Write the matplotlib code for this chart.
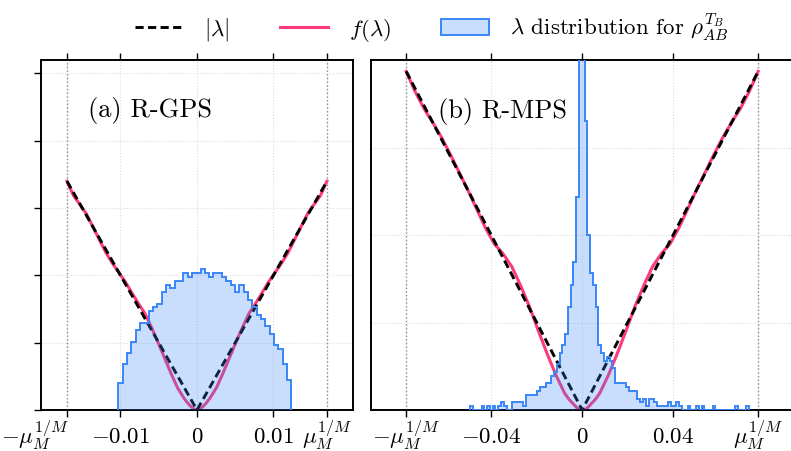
import numpy as np
import matplotlib
matplotlib.use("Agg")
import matplotlib.pyplot as plt
import matplotlib.transforms as mtransforms
from matplotlib.patches import Patch
from matplotlib.lines import Line2D

plt.rcParams.update({
    "font.family": "serif",
    "font.serif": ["cmr10", "DejaVu Serif"],
    "mathtext.fontset": "cm",
    "axes.formatter.use_mathtext": True,
    "font.size": 16.5,
})

# ---------------- data ----------------
# sample positions along lambda, as a fraction of mu_M^{1/M} (one side, mirrored)
frac_grid = [0, 0.025, 0.05, 0.075, 0.10, 0.15, 0.20, 0.25, 0.30, 0.35, 0.40,
             0.45, 0.50, 0.55, 0.60, 0.65, 0.70, 0.75, 0.80, 0.85, 0.90, 0.95, 1.0]

# (a) R-GPS
mu_gps = 0.0170
f_gps_half = [0, 0.00008, 0.00029, 0.00056, 0.00088, 0.00166, 0.00273, 0.00388,
              0.00503, 0.00614, 0.00717, 0.00791, 0.00869, 0.00950, 0.01020,
              0.01090, 0.01168, 0.01264, 0.01360, 0.01456, 0.01526, 0.01593, 0.0170]
hist_gps_range = (-0.01027, 0.01233)
hist_gps_counts = [7, 12, 15, 18, 21, 23, 23, 26, 27, 28, 31, 33, 32, 34, 34, 36,
                   35, 36, 36, 37, 36, 35, 36, 36, 35, 34, 33, 31, 33, 31, 29, 27,
                   25, 24, 22, 20, 17, 16, 12, 8]

# (b) R-MPS
mu_mps = 0.0775
f_mps_half = [0, 0.0003, 0.00136, 0.00245, 0.00386, 0.00808, 0.01298, 0.01823,
              0.02371, 0.02850, 0.03283, 0.03579, 0.03806, 0.04171, 0.04604,
              0.05038, 0.05448, 0.05858, 0.06246, 0.06588, 0.06906, 0.07294, 0.0775]
hist_mps_range = (-0.04921, 0.07339)
hist_mps_counts = [1, 0, 0, 0, 1, 0, 1, 0, 1, 0,
                   1, 2, 1, 0, 0, 2, 2, 2, 2, 1,
                   4, 4, 4, 4, 5, 6, 6, 7, 7, 9,
                   10, 12, 15, 17, 20, 27, 33, 39, 56, 104,
                   98, 76, 46, 36, 33, 27, 17, 15, 13, 14,
                   13, 11, 7, 7, 7, 7, 6, 5, 5, 5,
                   3, 2, 3, 1, 3, 3, 2, 1, 1, 1,
                   1, 2, 1, 1, 2, 1, 0, 0, 1, 0,
                   0, 1, 0, 1, 0, 0, 0, 1, 0, 0,
                   0, 0, 0, 0, 0, 1, 0, 0, 0, 1]

panels = [
    dict(mu=mu_gps, f_half=f_gps_half, hrange=hist_gps_range, counts=hist_gps_counts,
         ticks=[-0.01, 0, 0.01], ticklabels=[r"$-0.01$", r"$0$", r"$0.01$"],
         ystep=0.005, ytop=0.026, title="(a) R-GPS", tpos=(0.15, 0.84), yticks_on=True),
    dict(mu=mu_mps, f_half=f_mps_half, hrange=hist_mps_range, counts=hist_mps_counts,
         ticks=[-0.04, 0, 0.04], ticklabels=[r"$-0.04$", r"$0$", r"$0.04$"],
         ystep=0.02, ytop=0.0801, title="(b) R-MPS", tpos=(0.159, 0.837), yticks_on=False),
]

# ---------------- style ----------------
PINK = "#fd3a7b"
BLUE = "#3a86f8"
HIST_TOP = 92.1
DASH = (0, (2.8, 1.5))

fig = plt.figure(figsize=(7.91, 4.52), dpi=100)
positions = [[0.0518, 0.0907, 0.3944, 0.7743], [0.4690, 0.0907, 0.5340, 0.7743]]

for i, (pos, p) in enumerate(zip(positions, panels)):
    ax = fig.add_axes(pos)
    mu = p["mu"]
    frac = np.array(frac_grid)
    lam = np.concatenate([-frac[::-1], frac[1:]]) * mu
    fvals = np.concatenate([np.array(p["f_half"])[::-1], np.array(p["f_half"])[1:]])

    ax.plot([-mu, 0, mu], [mu, 0, mu], color="black", lw=2.1,
            linestyle=DASH, zorder=3)
    ax.plot(lam, fvals, color=PINK, lw=2.2, zorder=2.5)

    for v in (-mu, mu):
        ax.axvline(v, color="#8c8c8c", ls=":", lw=1.0, zorder=1)

    ax.set_xlim(-1.2 * mu, 1.2 * mu)
    ax.set_ylim(0, p["ytop"])
    ax.set_xticks([-mu] + p["ticks"] + [mu])
    ax.set_xticklabels([r"$-\mu_M^{1/M}$"] + p["ticklabels"] + [r"$\mu_M^{1/M}$"])
    ax.set_yticks(np.arange(0, p["ytop"], p["ystep"]))
    ax.grid(True, ls=":", color="#dcdcdc", lw=0.8, zorder=0)
    ax.set_axisbelow(True)
    for s in ax.spines.values():
        s.set_linewidth(1.4)

    ax.text(p["tpos"][0], p["tpos"][1], p["title"], transform=ax.transAxes,
            fontsize=19, va="baseline", ha="left")

    # eigenvalue histogram on its own count axis, drawn over the curves
    ax2 = ax.twinx()
    nb = len(p["counts"])
    edges = np.linspace(p["hrange"][0], p["hrange"][1], nb + 1)
    ax2.stairs(p["counts"], edges, fill=True, facecolor=BLUE, alpha=0.27,
               edgecolor="none", baseline=0)
    ax2.stairs(p["counts"], edges, fill=False, edgecolor=BLUE, lw=1.4, baseline=0)
    ax2.set_ylim(0, HIST_TOP)
    ax2.set_yticks([])
    ax2.tick_params(axis="y", left=False, right=False, labelleft=False, labelright=False)
    for s in ax2.spines.values():
        s.set_visible(False)

    # tick styling (after twinx, which resets the left ticks)
    ax.tick_params(axis="x", top=True, bottom=True, direction="out", length=5,
                   width=1, pad=3, labelsize=16.5)
    if p["yticks_on"]:
        ax.tick_params(axis="y", left=True, right=False, labelleft=False,
                       direction="out", length=5, width=1)
    else:
        ax.tick_params(axis="y", left=False, right=False, labelleft=False, length=0)

    # numeric labels sit a little lower than the mu labels
    labs = ax.get_xticklabels()
    for lab in labs[1:-1]:
        lab.set_transform(lab.get_transform() +
                          mtransforms.ScaledTranslation(0, -0.05, fig.dpi_scale_trans))
    for lab in (labs[0], labs[-1]):
        lab.set_transform(lab.get_transform() +
                          mtransforms.ScaledTranslation(0, 0.04, fig.dpi_scale_trans))
    if i == 0:
        lab = labs[0]
        lab.set_horizontalalignment("right")
        lab.set_transform(lab.get_transform() +
                          mtransforms.ScaledTranslation(0.02, 0, fig.dpi_scale_trans))

handles = [
    Line2D([], [], color="black", lw=2.1, linestyle=DASH),
    Line2D([], [], color=PINK, lw=2.2),
    Patch(facecolor=(0.227, 0.525, 0.973, 0.27), edgecolor=BLUE, lw=1.4),
]
labels = [r"$|\lambda|$", r"$f(\lambda)$", r"$\lambda$ distribution for $\rho_{AB}^{T_B}$"]
fig.legend(handles, labels, loc="center", bbox_to_anchor=(0.546, 0.938), ncol=3,
           frameon=False, handlelength=2.1, handletextpad=0.9, columnspacing=2.2,
           fontsize=16.5)

fig.savefig("out.png", dpi=100)
